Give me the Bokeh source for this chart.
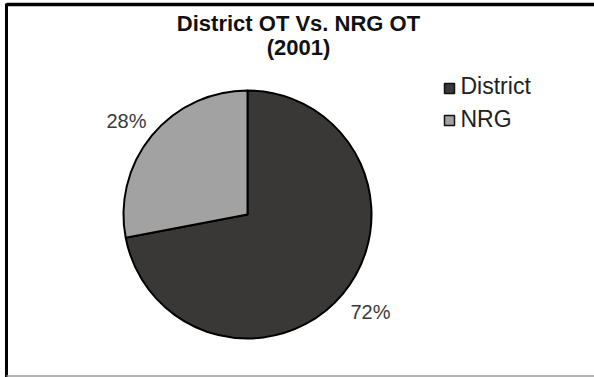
import math
from bokeh.plotting import figure
from bokeh.models import ColumnDataSource
from bokeh.core.properties import value
from bokeh.embed import file_html
from bokeh.resources import INLINE

# ---- data ----
categories = ["District", "NRG"]
shares = [72, 28]
labels = ["72%", "28%"]
colors = ["#3a3737", "#a2a2a2"]
title_lines = ["District OT Vs. NRG OT", "(2001)"]

W, H = 594, 377
p = figure(width=W, height=H, x_range=(0, W), y_range=(0, H),
           output_backend="svg", toolbar_location=None,
           min_border=0, outline_line_color=None)
p.axis.visible = False
p.grid.visible = False
p.background_fill_color = "white"
p.border_fill_color = "white"

def Y(v):
    return H - v

# frame
p.line([6, 6], [Y(3), Y(377)], line_color="black", line_width=3)
p.line([6, 594], [Y(4), Y(4)], line_color="black", line_width=3.5)
p.line([6, 594], [Y(375.5), Y(375.5)], line_color="#9a9a9a", line_width=1.5)

# pie: NRG starts at top and goes counter-clockwise; District fills the rest
cx, cy, r = 247, Y(214), 124
total = sum(shares)
nrg_frac = shares[1] / total
start_nrg = math.pi / 2
end_nrg = start_nrg + 2 * math.pi * nrg_frac
starts = [end_nrg, start_nrg]
ends = [start_nrg + 2 * math.pi, end_nrg]
src = ColumnDataSource(dict(start=starts, end=ends, color=colors, cat=categories))
p.wedge(x=cx, y=cy, radius=r, start_angle="start", end_angle="end",
        direction="anticlock", fill_color="color", line_color="black",
        line_width=2, source=src)

# percent labels
p.text(x=[370, 126], y=[Y(311), Y(120)], text=labels, text_align="center",
       text_baseline="middle", text_font=value("Liberation Sans"),
       text_font_size="20px", text_color="#3a3a3a")

# title
p.text(x=[298, 298], y=[Y(23), Y(47)], text=title_lines, text_align="center",
       text_baseline="middle", text_font=value("Liberation Sans"),
       text_font_size="22px", text_font_style="bold", text_color="#111111")

# legend
p.scatter(x=[449, 449], y=[Y(88), Y(120)], marker="square", size=10,
          fill_color=colors, line_color="#111111", line_width=1.5)
p.text(x=[460, 460], y=[Y(85), Y(118)], text=categories, text_align="left",
       text_baseline="middle", text_font=value("Liberation Sans"),
       text_font_size="23px", text_color="#222222")

open("out.html", "w").write(file_html(p, INLINE))
